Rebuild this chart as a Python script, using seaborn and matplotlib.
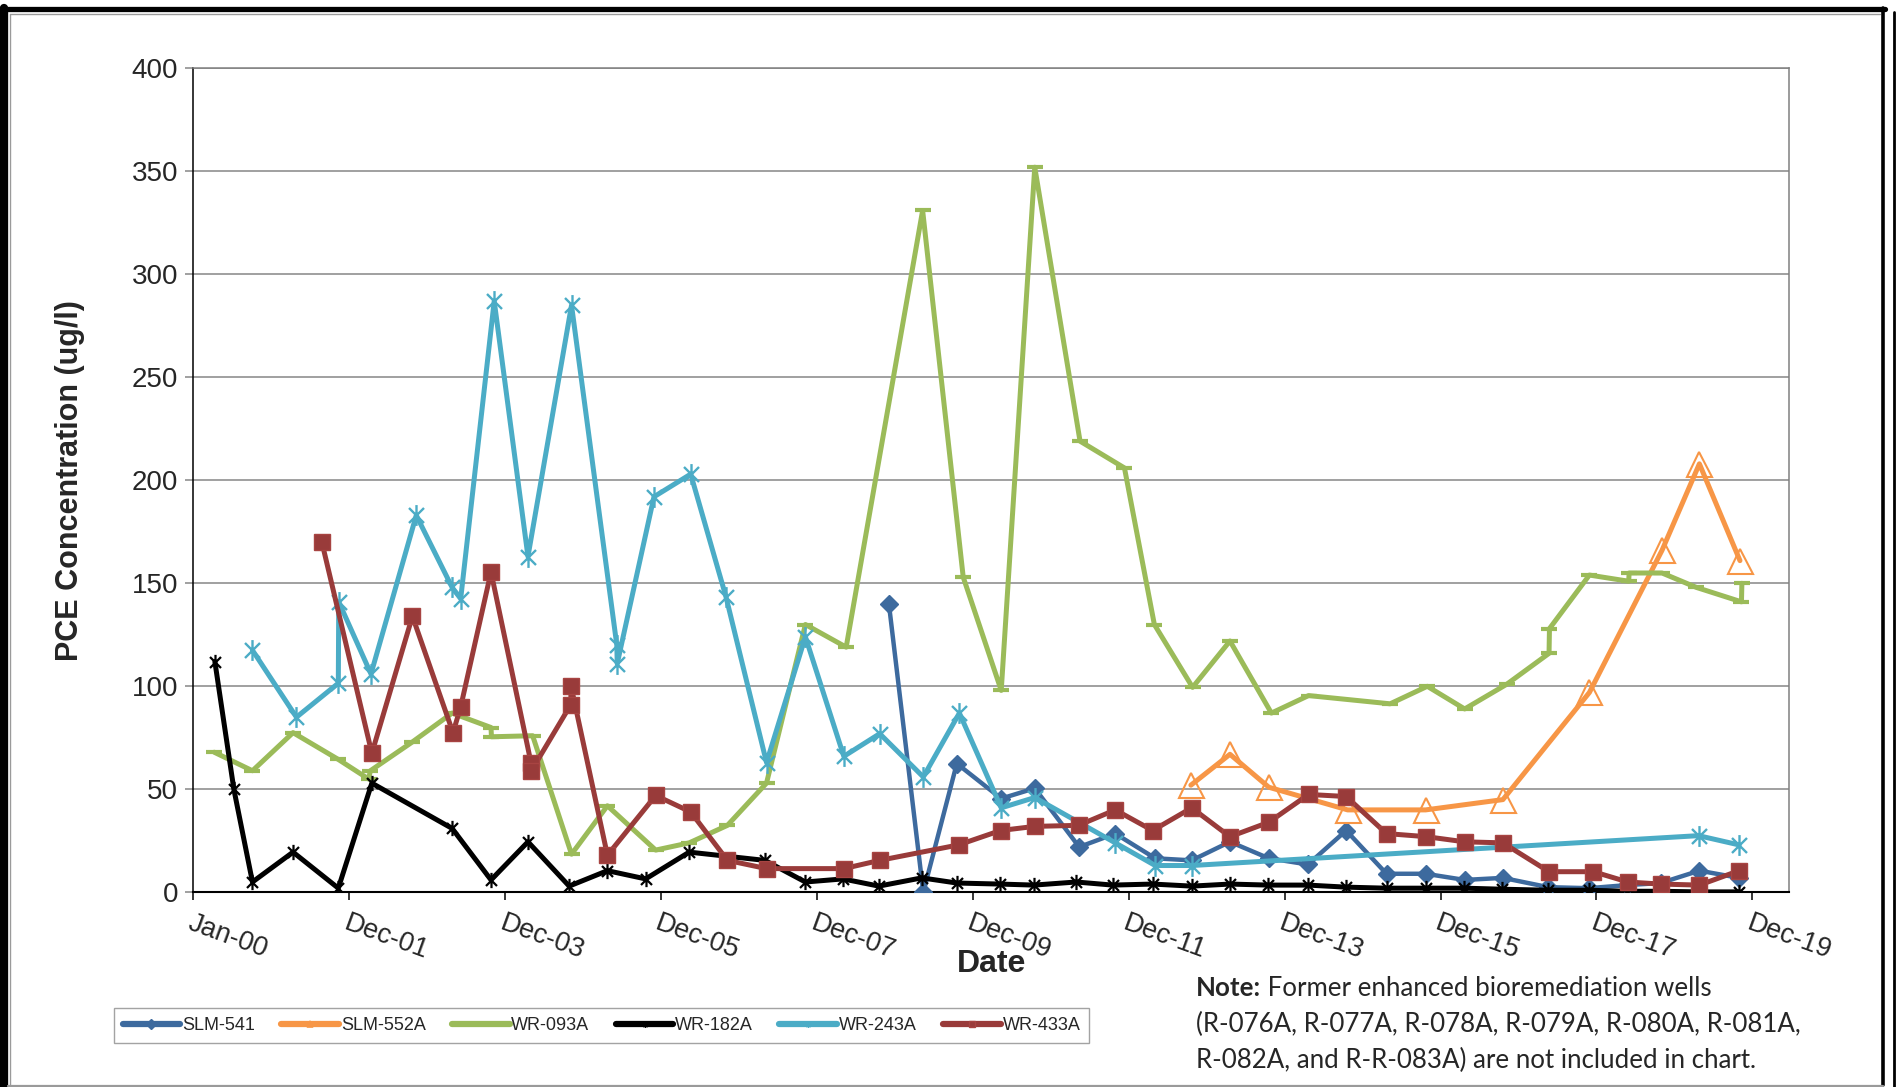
import matplotlib
matplotlib.use("Agg")
import matplotlib.pyplot as plt
import matplotlib.dates as mdates
from matplotlib.path import Path
from matplotlib.lines import Line2D
from matplotlib.ticker import FixedLocator
import numpy as np
import pandas as pd
import seaborn as sns

# ---------------- data ----------------
slm541_dates = ["2008-12-01", "2009-05-11", "2009-10-15", "2010-05-11", "2010-10-15", "2011-05-11",
                "2011-10-27", "2012-05-01", "2012-10-19", "2013-04-16", "2013-10-15", "2014-04-16",
                "2014-10-12", "2015-04-19", "2015-10-19", "2016-04-19", "2016-10-15", "2017-05-15",
                "2017-11-21", "2018-05-19", "2018-10-23", "2019-04-23", "2019-10-26"]
slm541_vals = [140, 0, 62.5, 45.5, 50.5, 22, 28.5, 16.5, 15.5, 24.5, 16.5, 13.5,
               30, 9, 9, 6, 7, 2.5, 2, 3.5, 4.5, 10.5, 7]

slm552a_dates = ["2012-10-15", "2013-04-16", "2013-10-15", "2014-10-19", "2015-10-19", "2016-10-15",
                 "2017-11-24", "2018-10-30", "2019-04-23", "2019-10-30"]
slm552a_vals = [52, 67, 51, 40, 40, 45, 97, 166, 208, 161]

wr093a_dates = ["2000-04-08", "2000-10-04", "2001-04-12", "2001-11-10", "2002-04-01", "2002-04-09",
                "2002-10-23", "2003-04-27", "2003-10-26", "2003-10-28", "2004-05-08", "2004-11-06",
                "2005-04-23", "2005-12-05", "2006-05-11", "2006-11-06", "2007-05-08", "2007-11-06",
                "2008-05-15", "2009-05-08", "2009-11-14", "2010-05-11", "2010-10-15", "2011-05-15",
                "2011-12-09", "2012-04-27", "2012-10-23", "2013-04-16", "2013-10-27", "2014-04-19",
                "2015-05-06", "2015-10-27", "2016-04-19", "2016-11-02", "2017-05-19", "2017-05-21",
                "2017-11-24", "2018-05-27", "2018-05-29", "2018-10-30", "2019-04-09", "2019-11-06",
                "2019-11-08"]
wr093a_vals = [68, 59, 77.5, 64.5, 55, 59, 73, 87, 80, 75.5, 76, 18.5,
               42, 20.5, 24, 32.5, 53, 130, 119, 331, 153, 98, 352, 219,
               206, 130, 99.5, 122, 87, 95.5, 91.5, 100, 89, 101, 116, 128,
               154, 151, 155, 155, 148, 141, 150]

wr182a_dates = ["2000-04-11", "2000-07-09", "2000-10-04", "2001-04-12", "2001-11-10", "2002-04-16",
                "2003-04-27", "2003-10-26", "2004-04-16", "2004-10-26", "2005-04-23", "2005-10-19",
                "2006-05-11", "2007-04-30", "2007-11-06", "2008-04-30", "2008-10-15", "2009-05-04",
                "2009-10-15", "2010-05-04", "2010-10-12", "2011-04-27", "2011-10-15", "2012-04-19",
                "2012-10-19", "2013-04-16", "2013-10-12", "2014-04-16", "2014-10-12", "2015-04-19",
                "2015-10-19", "2016-04-16", "2016-10-12", "2017-05-15", "2017-11-21", "2018-05-19",
                "2018-10-19", "2019-04-19", "2019-10-26"]
wr182a_vals = [112, 50, 5, 19.5, 2, 53, 31, 6, 24.5, 3, 10.5, 6.5,
               19.5, 15.5, 5, 6.5, 3, 7, 4.5, 4, 3.5, 5, 3.5, 4,
               3, 4, 3.5, 3.5, 2.5, 2, 2, 2, 1.5, 1, 1, 0.5,
               0.5, 0.2, 0.2]

wr243a_dates = ["2000-10-04", "2001-04-28", "2001-11-10", "2001-11-12", "2002-04-12", "2002-11-10",
                "2003-04-27", "2003-06-06", "2003-11-10", "2004-04-16", "2004-11-06", "2005-06-06",
                "2005-06-08", "2005-11-27", "2006-05-18", "2006-10-30", "2007-05-08", "2007-11-06",
                "2008-05-04", "2008-10-19", "2009-05-11", "2009-10-27", "2010-05-11", "2010-10-15",
                "2011-10-27", "2012-05-01", "2012-10-19", "2019-04-19", "2019-10-26"]
wr243a_vals = [117.5, 85, 101.5, 141, 106, 183, 148, 142.5, 287, 163, 285, 120,
               111, 192, 203, 143.5, 63, 124, 66, 77, 56, 87, 41, 46,
               24, 13, 13, 27.5, 23]

wr433a_dates = ["2001-08-25", "2002-04-16", "2002-10-23", "2003-05-01", "2003-06-06", "2003-10-26",
                "2004-04-30", "2004-05-02", "2004-11-02", "2004-11-04", "2005-04-23", "2005-12-05",
                "2006-05-18", "2006-11-06", "2007-05-08", "2008-05-04", "2008-10-19", "2009-10-23",
                "2010-05-08", "2010-10-15", "2011-05-08", "2011-10-27", "2012-04-19", "2012-10-19",
                "2013-04-16", "2013-10-15", "2014-04-19", "2014-10-12", "2015-04-19", "2015-10-23",
                "2016-04-19", "2016-10-15", "2017-05-19", "2017-12-13", "2018-05-23", "2018-10-23",
                "2019-04-23", "2019-10-26"]
wr433a_vals = [170, 67.5, 134, 77.5, 90, 155.5, 63, 59, 91, 100, 18, 47,
               39, 15.5, 11.5, 11.5, 15.5, 23, 30, 32, 32.5, 40, 30, 41,
               27, 34, 47.5, 46.5, 28.5, 27, 24.5, 24, 10, 10, 5, 4,
               3.5, 10.5]

well_names = ["SLM-541", "SLM-552A", "WR-093A", "WR-182A", "WR-243A", "WR-433A"]
y_ticks = [0, 50, 100, 150, 200, 250, 300, 350, 400]
x_tick_start = "2000-01-01"
x_tick_step_days = 730
note_bold = "Note:"
note_lines = [" Former enhanced bioremediation wells",
              "(R-076A, R-077A, R-078A, R-079A, R-080A, R-081A,",
              "R-082A, and R-R-083A) are not included in chart."]

# ---------------- styling ----------------
sns.set_theme(style="white")
plt.rcParams['font.family'] = ['Liberation Sans', 'DejaVu Sans']

W, H = 1897, 1087
fig = plt.figure(figsize=(W / 100, H / 100), dpi=100)
fig.patch.set_facecolor("white")
ax = fig.add_axes([193.3 / W, (H - 892.3) / H, 1596 / W, 824 / H])
ax.set_facecolor("white")

ast = Path([(0, -1), (0, 1), (-0.72, -0.72), (0.72, 0.72), (-0.72, 0.72), (0.72, -0.72)],
           [Path.MOVETO, Path.LINETO, Path.MOVETO, Path.LINETO, Path.MOVETO, Path.LINETO])

styles = {
    "SLM-541": dict(color="#3D6A9E", marker="D", markersize=9, markerfacecolor="#3D6A9E",
                    markeredgecolor="#3D6A9E", markeredgewidth=1, linewidth=3.2),
    "SLM-552A": dict(color="#F79646", marker="^", markersize=18, markerfacecolor="none",
                     markeredgecolor="#F79646", markeredgewidth=1.5, linewidth=3.6),
    "WR-093A": dict(color="#9BBB59", marker="_", markersize=11, markeredgecolor="#9BBB59",
                    markeredgewidth=3, linewidth=3.6),
    "WR-182A": dict(color="black", marker=ast, markersize=11, markeredgecolor="black",
                    markeredgewidth=1.6, linewidth=3.6),
    "WR-243A": dict(color="#4BACC6", marker=ast, markersize=15, markeredgecolor="#4BACC6",
                    markeredgewidth=1.7, linewidth=3.6),
    "WR-433A": dict(color="#993B3A", marker="s", markersize=12, markerfacecolor="#993B3A",
                    markeredgecolor="#A84442", markeredgewidth=1, linewidth=3.6),
}

data = {
    "SLM-541": (slm541_dates, slm541_vals),
    "SLM-552A": (slm552a_dates, slm552a_vals),
    "WR-093A": (wr093a_dates, wr093a_vals),
    "WR-182A": (wr182a_dates, wr182a_vals),
    "WR-243A": (wr243a_dates, wr243a_vals),
    "WR-433A": (wr433a_dates, wr433a_vals),
}

for i, name in enumerate(well_names):
    d, v = data[name]
    df = pd.DataFrame({"date": pd.to_datetime(d), "value": v})
    sns.lineplot(data=df, x="date", y="value", ax=ax, estimator=None, sort=False,
                 legend=False, zorder=3 + i, **styles[name])

# axes
x0 = pd.Timestamp(x_tick_start)
xt = [x0 + pd.Timedelta(days=x_tick_step_days * k) for k in range(11)]
ax.set_xlim(x0, x0 + pd.Timedelta(days=7473))
ax.set_ylim(0, 400)
ax.xaxis.set_major_locator(FixedLocator([mdates.date2num(t) for t in xt]))
ax.xaxis.set_major_formatter(mdates.DateFormatter("%b-%y"))
ax.yaxis.set_major_locator(FixedLocator(y_ticks))

ax.yaxis.grid(True, color="#868686", linewidth=1.1)
ax.xaxis.grid(False)
ax.set_axisbelow(True)
for s in ["top", "right"]:
    ax.spines[s].set_color("#808080")
    ax.spines[s].set_linewidth(1.1)
ax.spines["left"].set_color("black")
ax.spines["left"].set_linewidth(1.1)
ax.spines["bottom"].set_color("black")
ax.spines["bottom"].set_linewidth(1.5)

ax.tick_params(axis="y", direction="out", length=6, width=1.1, color="#868686",
               labelsize=20, pad=5, left=True)
ax.tick_params(axis="x", direction="out", length=6, width=1.1, color="black",
               labelsize=19.5, pad=7, bottom=True)
for lab in ax.get_xticklabels():
    lab.set_rotation(-20)
    lab.set_ha("left")
    lab.set_va("top")
    lab.set_rotation_mode("anchor")

ax.set_xlabel("")
ax.set_ylabel("PCE Concentration (ug/l)", fontsize=22, fontweight="bold")
ax.yaxis.set_label_coords(-0.068, 0.5)

fig.text(992 / W, 1 - 964 / H, "Date", fontsize=23, fontweight="bold",
         ha="center", va="center")

# legend
handles = []
for name in well_names:
    st = dict(styles[name])
    st["markersize"] = 5
    st["linewidth"] = 4.5
    st["markeredgewidth"] = min(st.get("markeredgewidth", 1), 1.2)
    handles.append(Line2D([0], [0], **st))
leg = fig.legend(handles, well_names, loc="center",
                 bbox_to_anchor=((108 + 1095) / 2 / W, 1 - 1025.5 / H),
                 ncol=6, frameon=True, fancybox=False, fontsize=13,
                 handlelength=3.2, handletextpad=0.1, columnspacing=1.45,
                 borderpad=0.5)
leg.get_frame().set_edgecolor("#8C8C8C")
leg.get_frame().set_linewidth(1.0)

# note text
renderer = fig.canvas.get_renderer()
note_font = ["Lato", "DejaVu Sans"]
probe = fig.text(0, 0, note_lines[1], fontsize=20, family=note_font)
wpx = probe.get_window_extent(renderer).width
probe.remove()
nsize = 20 * 605 / wpx
nx = 1196 / W
ys = [988, 1024, 1060]
tb = fig.text(nx, 1 - ys[0] / H, note_bold, fontsize=nsize, fontweight="bold",
              family=note_font, va="center", ha="left")
bb = tb.get_window_extent(renderer)
fig.text(bb.x1 / W, 1 - ys[0] / H, note_lines[0], fontsize=nsize, family=note_font,
         va="center", ha="left")
for t, yy in zip(note_lines[1:], ys[1:]):
    fig.text(nx, 1 - yy / H, t, fontsize=nsize, family=note_font, va="center", ha="left")

# outer frame
def fline(xa, ya, xb, yb, **kw):
    fig.add_artist(Line2D([xa / W, xb / W], [1 - ya / H, 1 - yb / H],
                          transform=fig.transFigure, **kw))

fline(4, 8, 4, 1087, color="black", linewidth=6)
fline(0, 8.5, 1885, 8.5, color="black", linewidth=3.8)
fline(10, 14, 1880, 14, color="#9A9A9A", linewidth=1)
fline(10, 14, 10, 1087, color="#9A9A9A", linewidth=1)
fline(1883, 8, 1883, 1085, color="black", linewidth=2.6)
fline(1894, 12, 1894, 1087, color="black", linewidth=2)
fline(8, 1085.5, 1883, 1085.5, color="#9A9A9A", linewidth=1.6)

fig.savefig("out.png", dpi=100, facecolor="white")
